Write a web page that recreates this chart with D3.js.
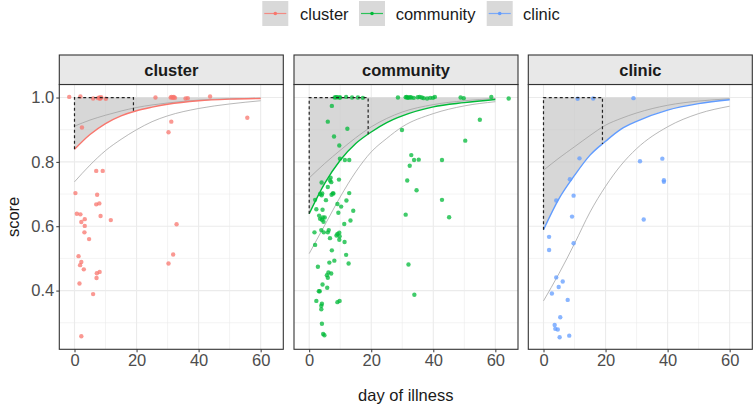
<!DOCTYPE html>
<html><head><meta charset="utf-8">
<script src="https://cdn.jsdelivr.net/npm/d3@7"></script>
<style>body{margin:0;background:#fff}svg{display:block;font-family:"Liberation Sans",Arial,sans-serif}</style>
</head><body><svg id="c" width="753" height="406"></svg>
<script>
// ---- data ----
const groups = ["cluster", "community", "clinic"];
const colors = ["#F8766D", "#00BA38", "#619CFF"];
const xTicks = [0, 20, 40, 60];
const yTicks = [0.4, 0.6, 0.8, 1.0];
const boxEndDay = 19;

const clusterPts = [[-1.7,1.002],[1.9,1.003],[6.0,0.997],[7.6,0.998],[8.0,1.0],[8.4,0.998],[8.6,1.001],[8.2,0.996],[10.1,0.996],[2.4,0.907],[26.1,1.0],[31.0,1.0],[31.3,1.002],[31.6,0.999],[31.9,1.0],[32.0,1.002],[32.4,0.999],[35.8,0.997],[36.5,0.998],[43.7,1.003],[55.7,0.937],[31.2,0.925],[30.3,0.892],[7.0,0.772],[9.1,0.772],[0.3,0.703],[7.3,0.698],[7.0,0.668],[8.0,0.671],[0.75,0.639],[1.9,0.637],[8.4,0.632],[11.7,0.619],[3.3,0.622],[2.2,0.613],[3.3,0.601],[3.2,0.581],[4.7,0.560],[32.9,0.606],[1.3,0.507],[2.2,0.489],[1.8,0.479],[3.0,0.466],[31.8,0.512],[30.3,0.484],[7.2,0.454],[8.1,0.458],[7.1,0.439],[1.6,0.422],[6.0,0.389],[2.2,0.258]];
const communityPts = [[8.2,1.0],[8.6,1.001],[9.0,1.001],[9.7,1.0],[10.0,1.0],[11.9,1.002],[13.8,1.0],[15.7,1.0],[17.3,0.999],[28.6,1.0],[31.1,1.001],[31.4,1.002],[31.7,0.999],[32.0,1.0],[32.5,1.001],[32.9,1.0],[33.7,0.999],[35.0,1.001],[35.6,1.002],[36.3,1.0],[36.9,0.998],[38.0,0.997],[39.0,0.999],[39.9,0.999],[40.5,1.002],[48.8,1.0],[49.8,0.998],[58.7,1.002],[64.3,0.997],[7.3,0.974],[6.0,0.925],[12.3,0.903],[8.0,0.879],[29.9,0.899],[55.0,0.931],[50.3,0.866],[9.7,0.851],[9.9,0.810],[11.5,0.806],[12.9,0.806],[32.9,0.821],[33.8,0.806],[35.3,0.807],[32.4,0.788],[42.8,0.806],[31.6,0.742],[34.6,0.712],[42.8,0.682],[45.1,0.628],[31.1,0.636],[32.0,0.481],[33.9,0.387],[4.0,0.736],[6.9,0.751],[6.7,0.742],[7.1,0.737],[9.6,0.745],[6.0,0.722],[3.5,0.700],[4.2,0.702],[4.0,0.696],[7.2,0.698],[7.6,0.702],[7.8,0.702],[12.9,0.703],[5.4,0.681],[1.9,0.682],[12.0,0.680],[9.1,0.669],[10.3,0.661],[2.3,0.653],[4.3,0.651],[14.2,0.648],[9.4,0.642],[3.2,0.633],[3.5,0.623],[4.4,0.627],[5.0,0.627],[4.6,0.614],[4.1,0.620],[13.3,0.618],[11.3,0.607],[1.7,0.581],[3.9,0.588],[4.7,0.581],[6.0,0.581],[6.3,0.588],[8.8,0.571],[9.1,0.576],[9.7,0.580],[9.8,0.569],[6.7,0.563],[9.7,0.558],[11.4,0.551],[1.9,0.542],[7.3,0.525],[11.9,0.511],[6.5,0.487],[8.1,0.493],[12.7,0.484],[2.8,0.474],[6.2,0.456],[7.1,0.453],[5.7,0.448],[6.0,0.440],[5.8,0.409],[4.3,0.419],[3.1,0.398],[3.4,0.398],[2.3,0.368],[4.1,0.359],[3.9,0.353],[3.9,0.342],[9.1,0.364],[9.8,0.368],[4.1,0.297],[4.5,0.265],[4.9,0.261]];
const clinicPts = [[11.0,0.996],[16.0,0.997],[29.0,0.998],[11.6,0.811],[31.1,0.802],[38.3,0.810],[38.8,0.743],[38.8,0.738],[8.5,0.746],[9.7,0.695],[4.1,0.680],[9.2,0.630],[32.3,0.621],[1.8,0.567],[1.8,0.526],[9.7,0.547],[4.1,0.441],[6.2,0.428],[4.9,0.411],[2.7,0.391],[7.8,0.371],[5.4,0.317],[3.6,0.293],[3.8,0.281],[4.6,0.279],[5.2,0.255],[8.3,0.260]];

const curveDays = [0, 5, 10, 15, 20, 25, 30, 40, 50, 60];
const clusterFit   = [0.839, 0.885, 0.919, 0.943, 0.959, 0.970, 0.979, 0.990, 0.995, 0.997];
const clusterUpper = [0.911, 0.930, 0.945, 0.958, 0.969, 0.977, 0.983, 0.992, 0.996, 0.998];
const clusterLower = [0.738, 0.790, 0.835, 0.870, 0.900, 0.925, 0.943, 0.966, 0.980, 0.990];
const communityFit   = [0.639, 0.733, 0.805, 0.857, 0.893, 0.922, 0.943, 0.971, 0.984, 0.994];
const communityUpper = [0.750, 0.795, 0.836, 0.875, 0.909, 0.935, 0.955, 0.978, 0.990, 0.997];
const communityLower = [0.515, 0.603, 0.691, 0.769, 0.831, 0.873, 0.909, 0.950, 0.974, 0.987];
const clinicFit   = [0.589, 0.686, 0.758, 0.821, 0.864, 0.902, 0.926, 0.961, 0.981, 0.993];
const clinicUpper = [0.774, 0.812, 0.847, 0.882, 0.914, 0.935, 0.952, 0.976, 0.989, 0.996];
const clinicLower = [0.368, 0.453, 0.546, 0.644, 0.724, 0.790, 0.841, 0.909, 0.950, 0.973];

const panelsData = [
  {pts: clusterPts, fit: clusterFit, up: clusterUpper, lo: clusterLower},
  {pts: communityPts, fit: communityFit, up: communityUpper, lo: communityLower},
  {pts: clinicPts, fit: clinicFit, up: clinicUpper, lo: clinicLower}
];

// ---- layout ----
const FS = 16.5;
const svg = d3.select("#c");
const panelX0 = [59.3, 294, 528.3];
const panelW = 224;
const stripTop = 55, panelTop = 84.5, panelBot = 349.3;
const x = d3.scaleLinear().domain([-4.9, 67.3]).range([0, panelW]);
const y = d3.scaleLinear().domain([0.2175, 1.0405]).range([panelBot - panelTop, 0]);
const H = panelBot - panelTop;
const minorX = [10, 30, 50], minorY = [0.3, 0.5, 0.7, 0.9];
const axisCol = "#333333", tickTextCol = "#4d4d4d";

panelsData.forEach((pd, i) => {
  const g = svg.append("g").attr("transform", `translate(${panelX0[i]},${panelTop})`);
  // grid
  g.selectAll(".mnx").data(minorX).join("line").attr("x1", d => x(d)).attr("x2", d => x(d)).attr("y1", 0).attr("y2", H).attr("stroke", "#ebebeb").attr("stroke-width", 0.6);
  g.selectAll(".mny").data(minorY).join("line").attr("y1", d => y(d)).attr("y2", d => y(d)).attr("x1", 0).attr("x2", panelW).attr("stroke", "#ebebeb").attr("stroke-width", 0.6);
  g.selectAll(".mjx").data(xTicks).join("line").attr("x1", d => x(d)).attr("x2", d => x(d)).attr("y1", 0).attr("y2", H).attr("stroke", "#ebebeb").attr("stroke-width", 1.1);
  g.selectAll(".mjy").data(yTicks).join("line").attr("y1", d => y(d)).attr("y2", d => y(d)).attr("x1", 0).attr("x2", panelW).attr("stroke", "#ebebeb").attr("stroke-width", 1.1);

  const fitPts = curveDays.map((d, k) => [d, pd.fit[k]]);
  // shaded area between fit and 1.0
  const area = d3.area().x(d => x(d[0])).y0(y(1)).y1(d => y(d[1])).curve(d3.curveMonotoneX);
  g.append("path").datum(fitPts).attr("d", area).attr("fill", "#c8c8c8").attr("fill-opacity", 0.72);

  // gray bounds
  const line = d3.line().x(d => x(d[0])).y(d => y(d[1])).curve(d3.curveMonotoneX);
  [pd.up, pd.lo].forEach(arr => {
    g.append("path").datum(curveDays.map((d, k) => [d, arr[k]])).attr("d", line)
      .attr("fill", "none").attr("stroke", "#a0a0a0").attr("stroke-width", 0.75);
  });

  // points
  g.selectAll(".pt").data(pd.pts).join("circle")
    .attr("cx", d => x(d[0])).attr("cy", d => y(d[1])).attr("r", 2.2)
    .attr("fill", colors[i]).attr("fill-opacity", 0.75);

  // fit line
  g.append("path").datum(fitPts).attr("d", line).attr("fill", "none").attr("stroke", colors[i]).attr("stroke-width", 1.4);

  // dashed box
  const f0 = pd.fit[0];
  const f19 = pd.fit[3] + (pd.fit[4] - pd.fit[3]) * (boxEndDay - 15) / 5;
  g.append("path")
    .attr("d", `M${x(0)},${y(f0)}L${x(0)},${y(1)}L${x(boxEndDay)},${y(1)}L${x(boxEndDay)},${y(f19)}`)
    .attr("fill", "none").attr("stroke", "#222").attr("stroke-width", 1.2).attr("stroke-dasharray", "3,2.5");

  // panel border
  g.append("rect").attr("x", 0).attr("y", 0).attr("width", panelW).attr("height", H)
    .attr("fill", "none").attr("stroke", axisCol).attr("stroke-width", 1.1);

  // strip
  svg.append("rect").attr("x", panelX0[i]).attr("y", stripTop).attr("width", panelW).attr("height", panelTop - stripTop)
    .attr("fill", "#e8e8e8").attr("stroke", axisCol).attr("stroke-width", 1.1);
  svg.append("text").attr("x", panelX0[i] + panelW / 2).attr("y", (stripTop + panelTop) / 2 + 6)
    .attr("text-anchor", "middle").attr("font-size", FS).attr("font-weight", "bold").attr("fill", "#1a1a1a").text(groups[i]);

  // x axis
  const xa = svg.append("g").attr("transform", `translate(${panelX0[i]},${panelBot})`)
    .call(d3.axisBottom(x).tickValues(xTicks).tickSize(3).tickPadding(1.5).tickFormat(d3.format("d")));
  xa.select(".domain").remove();
  xa.selectAll("line").attr("stroke", axisCol);
  xa.selectAll("text").attr("fill", tickTextCol).attr("font-size", FS).attr("font-family", "Liberation Sans, Arial, sans-serif");

  if (i === 0) {
    const ya = svg.append("g").attr("transform", `translate(${panelX0[i]},${panelTop})`)
      .call(d3.axisLeft(y).tickValues(yTicks).tickSize(3).tickPadding(2).tickFormat(d3.format(".1f")));
    ya.select(".domain").remove();
    ya.selectAll("line").attr("stroke", axisCol);
    ya.selectAll("text").attr("fill", tickTextCol).attr("font-size", FS).attr("font-family", "Liberation Sans, Arial, sans-serif");
  }
});

// axis titles
svg.append("text").attr("x", (panelX0[0] + panelX0[2] + panelW) / 2).attr("y", 401)
  .attr("text-anchor", "middle").attr("font-size", FS).attr("fill", "#1a1a1a").text("day of illness");
svg.append("text").attr("transform", `translate(19,${(panelTop + panelBot) / 2}) rotate(-90)`)
  .attr("text-anchor", "middle").attr("font-size", FS).attr("fill", "#1a1a1a").text("score");

// legend
const keyX = [262.3, 359, 486.7];
const labX = [300, 395.7, 523];
groups.forEach((gname, i) => {
  const lg = svg.append("g");
  lg.append("rect").attr("x", keyX[i]).attr("y", 1).attr("width", 26).attr("height", 25).attr("fill", "#d9d9d9");
  lg.append("line").attr("x1", keyX[i] + 2).attr("x2", keyX[i] + 24).attr("y1", 13.5).attr("y2", 13.5)
    .attr("stroke", colors[i]).attr("stroke-width", 1.2).attr("stroke-opacity", 0.8);
  lg.append("circle").attr("cx", keyX[i] + 13).attr("cy", 13.5).attr("r", 1.8).attr("fill", colors[i]);
  lg.append("text").attr("x", labX[i]).attr("y", 19.5).attr("font-size", FS).attr("fill", "#1a1a1a").text(gname);
});
</script></body></html>
